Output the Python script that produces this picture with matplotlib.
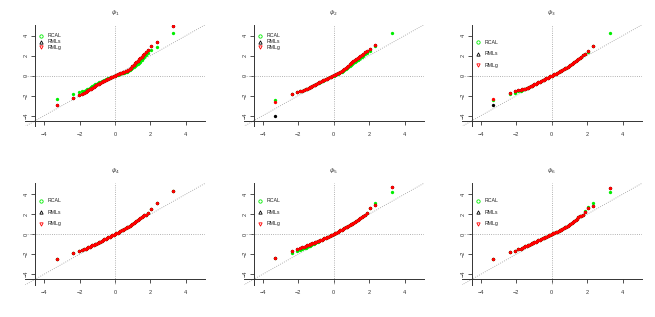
import matplotlib
matplotlib.use("Agg")
import matplotlib.pyplot as plt

plt.rcParams['font.family'] = ['Liberation Sans', 'DejaVu Sans']

# theoretical quantiles shared by every panel
xq = [-3.29, -2.35, -2.05, -1.88, -1.76, -1.66, -1.58, -1.50, -1.42, -1.35,
      -1.28, -1.20, -1.12, -1.05, -0.98, -0.90, -0.82, -0.75, -0.68, -0.60,
      -0.52, -0.45, -0.38, -0.30, -0.22, -0.15, -0.08, 0.00, 0.08, 0.15,
      0.22, 0.30, 0.38, 0.45, 0.52, 0.60, 0.68, 0.75, 0.82, 0.90,
      0.98, 1.05, 1.12, 1.20, 1.28, 1.35, 1.42, 1.50, 1.58, 1.66,
      1.76, 1.88, 2.05, 2.35, 3.29]

# panel 1
p1_rcal = [-2.30, -1.83, -1.68, -1.58, -1.50, -1.43, -1.37, -1.30, -1.22, -1.15,
           -1.07, -0.98, -0.88, -0.80, -0.73, -0.66, -0.60, -0.54, -0.49, -0.43,
           -0.38, -0.33, -0.27, -0.21, -0.15, -0.10, -0.05, 0.00, 0.05, 0.10,
           0.15, 0.20, 0.24, 0.28, 0.31, 0.35, 0.40, 0.47, 0.55, 0.64,
           0.74, 0.83, 0.92, 1.03, 1.15, 1.27, 1.40, 1.55, 1.72, 1.86,
           2.02, 2.22, 2.53, 2.87, 4.30]
p1_rmls = [-2.90, -2.20, -1.95, -1.82, -1.72, -1.62, -1.54, -1.46, -1.38, -1.30,
           -1.23, -1.14, -1.06, -0.96, -0.88, -0.80, -0.72, -0.65, -0.58, -0.50,
           -0.43, -0.37, -0.31, -0.24, -0.17, -0.11, -0.05, 0.01, 0.07, 0.13,
           0.19, 0.25, 0.30, 0.35, 0.39, 0.44, 0.51, 0.60, 0.70, 0.81,
           0.93, 1.08, 1.23, 1.37, 1.50, 1.62, 1.76, 1.90, 2.05, 2.20,
           2.36, 2.55, 2.97, 3.40, 5.00]
p1_rmlg = [-2.90, -2.20, -1.95, -1.82, -1.72, -1.62, -1.54, -1.46, -1.38, -1.30,
           -1.23, -1.14, -1.06, -0.96, -0.88, -0.80, -0.72, -0.65, -0.58, -0.50,
           -0.43, -0.37, -0.31, -0.24, -0.17, -0.11, -0.05, 0.01, 0.07, 0.13,
           0.19, 0.25, 0.30, 0.35, 0.39, 0.44, 0.51, 0.60, 0.70, 0.81,
           0.93, 1.08, 1.23, 1.37, 1.50, 1.62, 1.76, 1.90, 2.05, 2.20,
           2.36, 2.55, 2.97, 3.40, 5.00]

# panel 2
p2_rcal = [-2.47, -1.87, -1.67, -1.58, -1.50, -1.43, -1.36, -1.30, -1.23, -1.17,
           -1.11, -1.04, -0.97, -0.90, -0.84, -0.77, -0.69, -0.62, -0.56, -0.49,
           -0.42, -0.36, -0.30, -0.23, -0.17, -0.11, -0.05, 0.00, 0.07, 0.13,
           0.19, 0.26, 0.33, 0.40, 0.48, 0.56, 0.65, 0.74, 0.84, 0.94,
           1.05, 1.15, 1.26, 1.38, 1.49, 1.59, 1.69, 1.79, 1.89, 1.99,
           2.12, 2.28, 2.50, 2.97, 4.27]
p2_rmls = [-4.00, -1.87, -1.67, -1.57, -1.49, -1.42, -1.35, -1.29, -1.22, -1.16,
           -1.10, -1.03, -0.96, -0.89, -0.83, -0.76, -0.68, -0.61, -0.55, -0.48,
           -0.41, -0.35, -0.29, -0.22, -0.16, -0.10, -0.04, 0.02, 0.09, 0.16,
           0.23, 0.31, 0.40, 0.49, 0.58, 0.68, 0.79, 0.90, 1.01, 1.13,
           1.25, 1.36, 1.48, 1.60, 1.71, 1.81, 1.91, 2.00, 2.10, 2.20,
           2.32, 2.45, 2.63, 3.03, 5.60]
p2_rmlg = [-2.60, -1.87, -1.67, -1.57, -1.49, -1.42, -1.35, -1.29, -1.22, -1.16,
           -1.10, -1.03, -0.96, -0.89, -0.83, -0.76, -0.68, -0.61, -0.55, -0.48,
           -0.41, -0.35, -0.29, -0.22, -0.16, -0.10, -0.04, 0.02, 0.09, 0.16,
           0.23, 0.31, 0.40, 0.49, 0.58, 0.68, 0.79, 0.90, 1.01, 1.13,
           1.25, 1.36, 1.48, 1.60, 1.71, 1.81, 1.91, 2.00, 2.10, 2.20,
           2.32, 2.45, 2.63, 3.03, 5.60]

# panel 3
p3_rcal = [-2.43, -1.87, -1.70, -1.58, -1.50, -1.43, -1.37, -1.30, -1.24, -1.19,
           -1.13, -1.07, -1.00, -0.94, -0.86, -0.79, -0.71, -0.65, -0.59, -0.52,
           -0.45, -0.39, -0.33, -0.26, -0.19, -0.13, -0.07, 0.00, 0.07, 0.13,
           0.20, 0.27, 0.35, 0.42, 0.49, 0.57, 0.65, 0.72, 0.80, 0.88,
           0.97, 1.06, 1.15, 1.25, 1.36, 1.46, 1.57, 1.68, 1.79, 1.90,
           2.03, 2.15, 2.40, 2.95, 4.23]
p3_rmls = [-2.97, -1.70, -1.53, -1.47, -1.42, -1.37, -1.34, -1.30, -1.24, -1.19,
           -1.13, -1.07, -1.00, -0.94, -0.86, -0.79, -0.71, -0.65, -0.59, -0.52,
           -0.45, -0.39, -0.33, -0.26, -0.19, -0.13, -0.07, 0.00, 0.07, 0.13,
           0.20, 0.27, 0.35, 0.42, 0.49, 0.57, 0.65, 0.72, 0.80, 0.88,
           0.97, 1.06, 1.15, 1.25, 1.36, 1.46, 1.57, 1.68, 1.79, 1.90,
           2.03, 2.20, 2.47, 3.00, 5.50]
p3_rmlg = [-2.30, -1.70, -1.53, -1.47, -1.42, -1.37, -1.34, -1.30, -1.24, -1.19,
           -1.13, -1.07, -1.00, -0.94, -0.86, -0.79, -0.71, -0.65, -0.59, -0.52,
           -0.45, -0.39, -0.33, -0.26, -0.19, -0.13, -0.07, 0.00, 0.07, 0.13,
           0.20, 0.27, 0.35, 0.42, 0.49, 0.57, 0.65, 0.72, 0.80, 0.88,
           0.97, 1.06, 1.15, 1.25, 1.36, 1.46, 1.57, 1.68, 1.79, 1.90,
           2.03, 2.20, 2.47, 3.00, 5.50]

# panel 4
p4_rcal = [-2.47, -1.90, -1.73, -1.60, -1.50, -1.45, -1.39, -1.30, -1.25, -1.19,
           -1.13, -1.07, -1.01, -0.95, -0.88, -0.81, -0.74, -0.67, -0.60, -0.53,
           -0.45, -0.39, -0.33, -0.26, -0.19, -0.13, -0.07, 0.00, 0.08, 0.15,
           0.22, 0.29, 0.37, 0.44, 0.52, 0.60, 0.68, 0.76, 0.84, 0.92,
           1.01, 1.09, 1.18, 1.28, 1.38, 1.47, 1.57, 1.68, 1.78, 1.87,
           1.96, 2.10, 2.50, 3.07, 4.27]
p4_rmls = [-2.47, -1.90, -1.73, -1.60, -1.50, -1.45, -1.39, -1.30, -1.25, -1.19,
           -1.13, -1.07, -1.01, -0.95, -0.88, -0.81, -0.74, -0.67, -0.60, -0.53,
           -0.45, -0.39, -0.33, -0.26, -0.19, -0.13, -0.07, 0.00, 0.08, 0.15,
           0.22, 0.29, 0.37, 0.44, 0.52, 0.60, 0.68, 0.76, 0.84, 0.92,
           1.01, 1.09, 1.18, 1.28, 1.38, 1.47, 1.57, 1.68, 1.78, 1.87,
           1.96, 2.10, 2.50, 3.07, 4.27]
p4_rmlg = [-2.47, -1.90, -1.73, -1.60, -1.50, -1.45, -1.39, -1.30, -1.25, -1.19,
           -1.13, -1.07, -1.01, -0.95, -0.88, -0.81, -0.74, -0.67, -0.60, -0.53,
           -0.45, -0.39, -0.33, -0.26, -0.19, -0.13, -0.07, 0.00, 0.08, 0.15,
           0.22, 0.29, 0.37, 0.44, 0.52, 0.60, 0.68, 0.76, 0.84, 0.92,
           1.01, 1.09, 1.18, 1.28, 1.38, 1.47, 1.57, 1.68, 1.78, 1.87,
           1.96, 2.10, 2.50, 3.07, 4.27]

# panel 5
p5_rcal = [-2.40, -1.87, -1.70, -1.58, -1.50, -1.43, -1.36, -1.30, -1.23, -1.17,
           -1.10, -1.03, -0.96, -0.90, -0.83, -0.76, -0.68, -0.62, -0.55, -0.49,
           -0.42, -0.36, -0.30, -0.24, -0.17, -0.12, -0.06, 0.00, 0.08, 0.15,
           0.22, 0.30, 0.38, 0.45, 0.52, 0.60, 0.68, 0.75, 0.82, 0.90,
           0.98, 1.06, 1.14, 1.23, 1.33, 1.42, 1.51, 1.62, 1.72, 1.82,
           1.95, 2.12, 2.60, 3.07, 4.23]
p5_rmls = [-2.40, -1.67, -1.47, -1.38, -1.31, -1.25, -1.19, -1.13, -1.08, -1.03,
           -0.98, -0.93, -0.87, -0.83, -0.78, -0.72, -0.66, -0.60, -0.54, -0.48,
           -0.42, -0.36, -0.30, -0.24, -0.17, -0.12, -0.06, 0.00, 0.08, 0.15,
           0.22, 0.30, 0.38, 0.45, 0.52, 0.60, 0.68, 0.75, 0.82, 0.90,
           0.98, 1.06, 1.14, 1.23, 1.32, 1.40, 1.49, 1.60, 1.70, 1.80,
           1.93, 2.10, 2.60, 2.93, 4.67]
p5_rmlg = [-2.40, -1.67, -1.47, -1.38, -1.31, -1.25, -1.19, -1.13, -1.08, -1.03,
           -0.98, -0.93, -0.87, -0.83, -0.78, -0.72, -0.66, -0.60, -0.54, -0.48,
           -0.42, -0.36, -0.30, -0.24, -0.17, -0.12, -0.06, 0.00, 0.08, 0.15,
           0.22, 0.30, 0.38, 0.45, 0.52, 0.60, 0.68, 0.75, 0.82, 0.90,
           0.98, 1.06, 1.14, 1.23, 1.32, 1.40, 1.49, 1.60, 1.70, 1.80,
           1.93, 2.10, 2.60, 2.93, 4.67]

# panel 6
p6_rcal = [-2.47, -1.83, -1.67, -1.53, -1.44, -1.38, -1.31, -1.23, -1.17, -1.11,
           -1.06, -0.99, -0.93, -0.87, -0.81, -0.74, -0.67, -0.61, -0.55, -0.49,
           -0.42, -0.37, -0.31, -0.25, -0.18, -0.12, -0.06, 0.00, 0.07, 0.13,
           0.19, 0.26, 0.33, 0.39, 0.45, 0.52, 0.60, 0.67, 0.75, 0.84,
           0.96, 1.05, 1.14, 1.25, 1.36, 1.46, 1.56, 1.67, 1.78, 1.86,
           1.96, 2.33, 2.70, 3.07, 4.23]
p6_rmls = [-2.47, -1.83, -1.67, -1.53, -1.44, -1.38, -1.31, -1.23, -1.17, -1.11,
           -1.06, -0.99, -0.93, -0.87, -0.81, -0.74, -0.67, -0.61, -0.55, -0.49,
           -0.42, -0.37, -0.31, -0.25, -0.18, -0.12, -0.06, 0.00, 0.07, 0.13,
           0.19, 0.26, 0.33, 0.39, 0.45, 0.52, 0.60, 0.67, 0.75, 0.84,
           0.96, 1.05, 1.14, 1.25, 1.36, 1.46, 1.56, 1.67, 1.78, 1.86,
           1.93, 2.20, 2.60, 2.83, 4.60]
p6_rmlg = [-2.47, -1.83, -1.67, -1.53, -1.44, -1.38, -1.31, -1.23, -1.17, -1.11,
           -1.06, -0.99, -0.93, -0.87, -0.81, -0.74, -0.67, -0.61, -0.55, -0.49,
           -0.42, -0.37, -0.31, -0.25, -0.18, -0.12, -0.06, 0.00, 0.07, 0.13,
           0.19, 0.26, 0.33, 0.39, 0.45, 0.52, 0.60, 0.67, 0.75, 0.84,
           0.96, 1.05, 1.14, 1.25, 1.36, 1.46, 1.56, 1.67, 1.78, 1.86,
           1.93, 2.20, 2.60, 2.83, 4.60]

titles = [r"$\hat{\psi}_1$", r"$\hat{\psi}_2$", r"$\hat{\psi}_3$",
          r"$\hat{\psi}_4$", r"$\hat{\psi}_5$", r"$\hat{\psi}_6$"]
methods = ["RCAL", "RMLs", "RMLg"]
colors = ["#00ee00", "black", "red"]
legend_markers = ["o", "^", "v"]
ticks = [-4, -2, 0, 2, 4]

panels = [
    (p1_rcal, p1_rmls, p1_rmlg),
    (p2_rcal, p2_rmls, p2_rmlg),
    (p3_rcal, p3_rmls, p3_rmlg),
    (p4_rcal, p4_rmls, p4_rmlg),
    (p5_rcal, p5_rmls, p5_rmlg),
    (p6_rcal, p6_rmls, p6_rmlg),
]

fig = plt.figure(figsize=(6.55, 3.17), dpi=100)
lefts = [0.0382, 0.372, 0.705]
bottoms = [0.601, 0.101]
lim = 5.08

for k, series in enumerate(panels):
    ax = fig.add_axes([lefts[k % 3], bottoms[k // 3], 0.2748, 0.3205])
    ax.set_xlim(-lim, lim)
    ax.set_ylim(-lim, lim)

    # reference lines
    ax.axhline(0, color="#999999", lw=0.6, ls=":")
    ax.axvline(0, color="#999999", lw=0.6, ls=":")
    ax.axline((0, 0), slope=1, color="#999999", lw=0.6, ls=":")

    for ys, c in zip(series, colors):
        ax.plot(xq, ys, ls="none", marker="o", ms=2.4, mec="none", mfc=c)

    # legend keys (tight in the first two panels)
    if k < 2:
        rows = [0.892, 0.836, 0.780]
    else:
        rows = [0.830, 0.717, 0.602]
    for yy, lab, c, m in zip(rows, methods, colors, legend_markers):
        ax.plot([0.089], [yy], transform=ax.transAxes, marker=m, ms=2.4,
                mfc="none", mec=c, mew=0.6, ls="none", clip_on=False)
        ax.text(0.126, yy, lab, transform=ax.transAxes, fontsize=3.8,
                va="center", ha="left", color="#222222")

    ax.text(0.5, 1.12, titles[k], transform=ax.transAxes, fontsize=4.5,
            ha="center", va="center", color="#333333")

    for s in ["top", "right"]:
        ax.spines[s].set_visible(False)
    ax.spines["left"].set_position(("data", -4.5))
    ax.spines["bottom"].set_position(("data", -4.5))
    for s in ["left", "bottom"]:
        ax.spines[s].set_linewidth(0.7)
        ax.spines[s].set_color("#333333")

    ax.set_xticks(ticks)
    ax.set_yticks(ticks)
    ax.set_xticklabels([str(t).replace("-", "\u2212") for t in ticks])
    ax.set_yticklabels([str(t).replace("-", "\u2212") for t in ticks],
                       rotation=90, va="center")
    ax.tick_params(length=3, width=0.6, color="#333333", labelsize=4,
                   labelcolor="#333333", pad=5)
    ax.tick_params(axis="y", pad=1.5)
    ax.patch.set_visible(False)

fig.savefig("out.png", dpi=100)
